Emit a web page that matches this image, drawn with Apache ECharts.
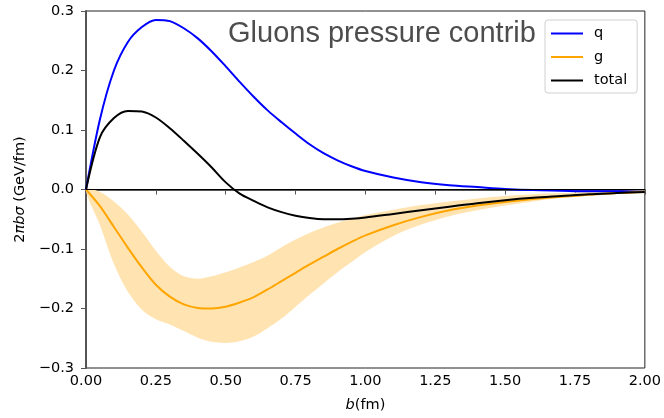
<!DOCTYPE html>
<html>
<head>
<meta charset="utf-8">
<script src="https://cdn.jsdelivr.net/npm/echarts@6/dist/echarts.min.js"></script>
<style>
html,body{margin:0;padding:0;background:#fff;}
#chart{width:664px;height:418px;}
</style>
</head>
<body>
<div id="chart"></div>
<script>
// b values (fm)
var bVals = [0, 0.05, 0.1, 0.15, 0.2, 0.25, 0.3, 0.35, 0.4, 0.45, 0.5, 0.55, 0.6, 0.65, 0.7, 0.75, 0.8, 0.85, 0.9, 0.95, 1.0,
             1.1, 1.2, 1.3, 1.4, 1.5, 1.6, 1.7, 1.8, 1.9, 2.0];
var qVals = [0, 0.118, 0.200, 0.248, 0.273, 0.285, 0.283, 0.271, 0.254, 0.232, 0.207, 0.181, 0.156, 0.133, 0.113, 0.094, 0.076, 0.061, 0.049, 0.039, 0.031,
             0.020, 0.012, 0.007, 0.004, 0.001, -0.001, -0.002, -0.003, -0.003, -0.004];
var gVals = [0, -0.028, -0.063, -0.098, -0.131, -0.160, -0.180, -0.193, -0.199, -0.200, -0.197, -0.190, -0.181, -0.168, -0.154, -0.140, -0.126, -0.113, -0.100, -0.088, -0.077,
             -0.060, -0.046, -0.035, -0.027, -0.021, -0.016, -0.012, -0.009, -0.006, -0.004];
var totalVals = [0, 0.088, 0.120, 0.132, 0.131, 0.121, 0.103, 0.082, 0.060, 0.037, 0.012, -0.007, -0.019, -0.030, -0.038, -0.044, -0.048, -0.050, -0.050, -0.049, -0.047,
                 -0.041, -0.035, -0.029, -0.023, -0.018, -0.014, -0.011, -0.008, -0.006, -0.004];
// uncertainty band of g
var gHigh = [0, -0.004, -0.020, -0.042, -0.071, -0.103, -0.130, -0.146, -0.150, -0.146, -0.139, -0.131, -0.122, -0.111, -0.097, -0.084, -0.073, -0.064, -0.056, -0.049, -0.043,
             -0.034, -0.026, -0.020, -0.015, -0.011, -0.008, -0.006, -0.004, -0.003, -0.002];
var gLow = [0, -0.060, -0.125, -0.172, -0.202, -0.218, -0.227, -0.238, -0.249, -0.256, -0.258, -0.255, -0.247, -0.233, -0.217, -0.197, -0.177, -0.158, -0.139, -0.122, -0.105,
            -0.078, -0.059, -0.045, -0.035, -0.027, -0.020, -0.014, -0.010, -0.007, -0.005];

function pairs(ys){
	var out=[];
	for(var i=0;i<bVals.length;i++){ out.push([bVals[i],ys[i]]); }
	return out;
}

var font='DejaVu Sans';
var chart=echarts.init(document.getElementById('chart'));

// shaded band between gHigh and gLow
function renderBand(params,api){
	if(params.dataIndex!==0) return;
	var pts=[];
	for(var i=0;i<bVals.length;i++){ pts.push(api.coord([bVals[i],gHigh[i]])); }
	for(var j=bVals.length-1;j>0;j--){ pts.push(api.coord([bVals[j],gLow[j]])); }
	return {
		type:'polygon',
		shape:{points:pts,smooth:0.3},
		style:{fill:'#FFE4B2',stroke:null},
		silent:true
	};
}

var option={
	animation:false,
	backgroundColor:'#fff',
	title:{
		text:'Gluons pressure contrib',
		left:228, top:19, padding:0,
		textStyle:{fontFamily:'Liberation Sans',fontSize:29,fontWeight:'normal',color:'#4d4d4d'}
	},
	legend:{
		data:['q','g','total'],
		orient:'vertical',
		left:545, top:20,
		icon:'rect', itemWidth:32, itemHeight:2, itemGap:8.5,
		padding:[6,10,5,6],
		backgroundColor:'#fff', borderColor:'#d0d0d0', borderWidth:1, borderRadius:3,
		textStyle:{fontFamily:font,fontSize:14.5,color:'#000',padding:[0,0,0,6]}
	},
	grid:{left:86,right:19,top:11,bottom:47,show:true,borderColor:'#222',borderWidth:1,containLabel:false},
	xAxis:{
		type:'value', min:0, max:2, interval:0.25,
		name:'{i|b}(fm)', nameLocation:'middle', nameGap:30,
		nameTextStyle:{fontFamily:font,fontSize:14.5,color:'#000',rich:{i:{fontStyle:'italic',fontFamily:font,fontSize:14.5}}},
		axisLine:{lineStyle:{color:'#555',width:2}},
		axisTick:{show:true,length:5,lineStyle:{color:'#555',width:1}},
		axisLabel:{margin:6,fontFamily:font,fontSize:14.5,color:'#000',formatter:function(v){return v.toFixed(2);}},
		splitLine:{show:false}
	},
	yAxis:{
		type:'value', min:-0.3, max:0.3, interval:0.1,
		name:'2{i|πbσ} (GeV/fm)', nameLocation:'middle', nameGap:53, nameRotate:90,
		nameTextStyle:{fontFamily:font,fontSize:14.5,color:'#000',rich:{i:{fontStyle:'italic',fontFamily:font,fontSize:14.5}}},
		axisLine:{show:true,lineStyle:{color:'#555',width:2}},
		axisTick:{show:true,length:5,lineStyle:{color:'#555',width:1}},
		axisLabel:{margin:12,fontFamily:font,fontSize:14.5,color:'#000',formatter:function(v){var s=Math.abs(v).toFixed(1);return (v< -1e-9?'\u2212':'')+s;}},
		splitLine:{show:false}
	},
	series:[
		{name:'gBand',type:'custom',renderItem:renderBand,data:pairs(gHigh),silent:true,z:1},
		{name:'q',type:'line',data:pairs(qVals),smooth:0.3,symbol:'none',color:'#0000FF',lineStyle:{color:'#0000FF',width:2},z:3,
			markLine:{silent:true,symbol:'none',label:{show:false},lineStyle:{color:'#000',width:1,type:'solid'},data:[{yAxis:0}]}},
		{name:'g',type:'line',data:pairs(gVals),smooth:0.3,symbol:'none',color:'#FFA500',lineStyle:{color:'#FFA500',width:2},z:3},
		{name:'total',type:'line',data:pairs(totalVals),smooth:0.3,symbol:'none',color:'#000',lineStyle:{color:'#000',width:2},z:3}
	]
};
chart.setOption(option);
</script>
</body>
</html>
